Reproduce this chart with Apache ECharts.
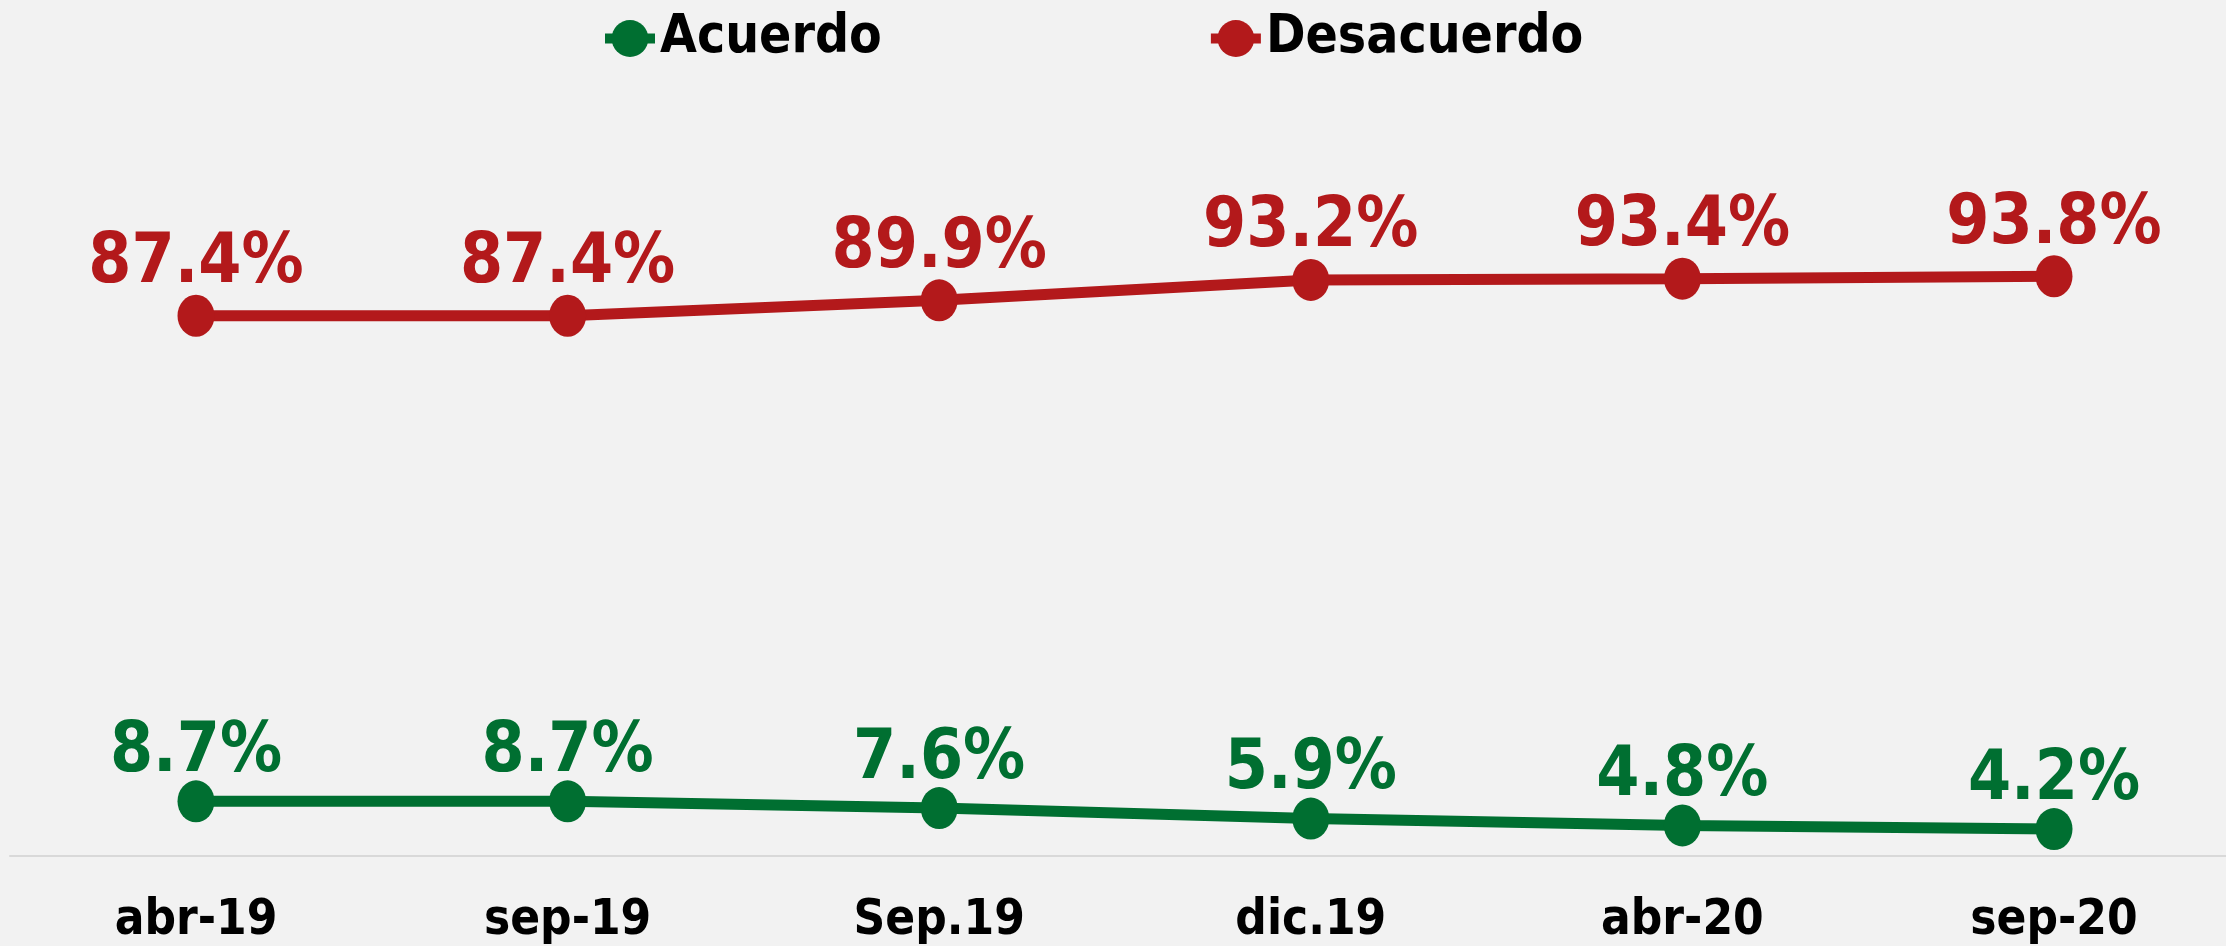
<!DOCTYPE html>
<html>
<head>
<meta charset="UTF-8">
<title>Acuerdo / Desacuerdo</title>
<script src="https://cdn.jsdelivr.net/npm/echarts@6/dist/echarts.min.js"></script>
<style>
  html, body { margin: 0; padding: 0; background: #f2f2f2; }
  #main { width: 2226px; height: 946px; }
</style>
</head>
<body>
<div id="main"></div>
<script type="text/javascript">
// datos
var periodos = ['abr-19', 'sep-19', 'Sep.19', 'dic.19', 'abr-20', 'sep-20'];
var acuerdo = [8.7, 8.7, 7.6, 5.9, 4.8, 4.2];
var desacuerdo = [87.4, 87.4, 89.9, 93.2, 93.4, 93.8];

var fuente = '"DejaVu Sans Condensed", "DejaVu Sans", sans-serif';
var verde = '#006f31';
var rojo = '#b3191b';

(function () {
  var myChart = echarts.init(document.getElementById('main'));

  function serie(nombre, datos, color, dist) {
    return {
      name: nombre,
      type: 'line',
      data: datos,
      symbol: 'circle',
      symbolSize: [37, 42],
      lineStyle: { color: color, width: 11 },
      itemStyle: { color: color },
      label: {
        show: true,
        position: 'top',
        distance: dist,
        color: color,
        fontFamily: fuente,
        fontWeight: 'bold',
        fontSize: 69,
        formatter: function (p) { return p.value.toFixed(1) + '%'; }
      }
    };
  }

  var option = {
    backgroundColor: '#f2f2f2',
    animation: false,
    legend: {
      top: 7,
      left: 595,
      itemWidth: 50,
      itemHeight: 46,
      itemGap: 324,
      lineStyle: { width: 10 },
      textStyle: {
        color: '#000',
        fontFamily: fuente,
        fontWeight: 'bold',
        fontSize: 53
      },
      data: ['Acuerdo', 'Desacuerdo']
    },
    grid: [
      { left: 196, right: 172, top: 238, bottom: 90 },
      // solo para la linea del eje, que cruza todo el ancho
      { left: 10, right: 0, top: 238, bottom: 90 }
    ],
    xAxis: [
      {
        type: 'category',
        data: periodos,
        boundaryGap: false,
        axisLine: { show: false },
        axisTick: { show: false },
        axisLabel: {
          margin: 42,
          color: '#000',
          fontFamily: fuente,
          fontWeight: 'bold',
          fontSize: 49
        }
      },
      {
        gridIndex: 1,
        type: 'category',
        data: periodos,
        axisLine: { lineStyle: { color: '#d9d9d9', width: 2 } },
        axisTick: { show: false },
        axisLabel: { show: false }
      }
    ],
    yAxis: [
      { type: 'value', min: 0, max: 100, show: false, splitLine: { show: false } },
      { gridIndex: 1, type: 'value', min: 0, max: 100, show: false, splitLine: { show: false } }
    ],
    series: [
      serie('Acuerdo', acuerdo, verde, -7),
      serie('Desacuerdo', desacuerdo, rojo, -4)
    ]
  };

  myChart.setOption(option);
})();
</script>
</body>
</html>
